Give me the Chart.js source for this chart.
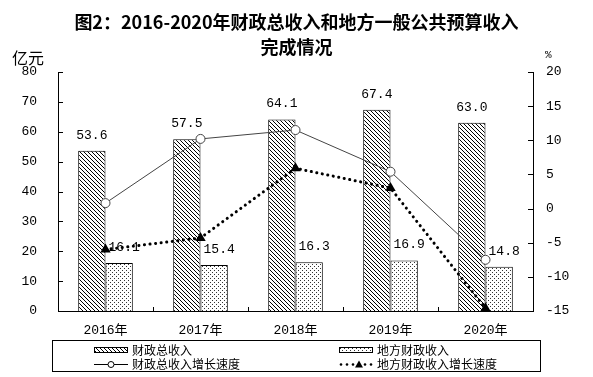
<!DOCTYPE html>
<html>
<head>
<meta charset="utf-8">
<script src="https://cdn.jsdelivr.net/npm/chart.js@4"></script>
<style>
  html, body { margin: 0; padding: 0; background: #fff; }
  #wrap { position: relative; width: 593px; height: 377px; }
  #title {
    position: absolute; left: 0; top: 9px; width: 593px; text-align: center;
    font: bold 18px "Noto Sans CJK SC", sans-serif; line-height: 25px; color: #000;
  }
  .unit { position: absolute; font-family: "Noto Sans CJK SC", sans-serif; color: #000; }
  #unitL { left: 12px; top: 45px; font-size: 16px; }
  #unitR { left: 545px; top: 49px; font-size: 11px; font-family: "Liberation Mono", monospace; }
  #probe { position: absolute; left: -999px; font-family: "Liberation Mono"; }
</style>
</head>
<body>
<div id="wrap">
  <canvas id="chart" width="593" height="377"></canvas>
  <div id="title">图2：2016-2020年财政总收入和地方一般公共预算收入<br>完成情况</div>
  <div class="unit" id="unitL">亿元</div>
  <div class="unit" id="unitR">%</div>
  <span id="probe">0123456789</span>
</div>
<script>
const years = ["2016年", "2017年", "2018年", "2019年", "2020年"];
const totalRevenue = [53.6, 57.5, 64.1, 67.4, 63.0];
const localRevenue = [16.1, 15.4, 16.3, 16.9, 14.8];
const totalGrowth = [0.8, 10.2, 11.5, 5.4, -7.5];
const localGrowth = [-6.0, -4.3, 5.9, 3.0, -14.6];
const seriesNames = ["财政总收入", "地方财政收入", "财政总收入增长速度", "地方财政收入增长速度"];

const numFont = "Liberation Mono, Noto Sans CJK SC, monospace";
const cjkFont = "Noto Sans CJK SC, sans-serif";

function hatchPattern() {
  const c = document.createElement("canvas");
  c.width = 4; c.height = 4;
  const g = c.getContext("2d");
  g.fillStyle = "#fff";
  g.fillRect(0, 0, 4, 4);
  g.strokeStyle = "#000";
  g.lineWidth = 1;
  g.beginPath();
  g.moveTo(-1, -1); g.lineTo(5, 5);
  g.moveTo(-1, 3); g.lineTo(1, 5);
  g.moveTo(3, -1); g.lineTo(5, 1);
  g.stroke();
  return g.createPattern(c, "repeat");
}

function dotPattern() {
  const c = document.createElement("canvas");
  c.width = 4; c.height = 4;
  const g = c.getContext("2d");
  g.fillStyle = "#fff";
  g.fillRect(0, 0, 4, 4);
  g.fillStyle = "#333";
  g.fillRect(0, 0, 1, 1);
  g.fillRect(2, 2, 1, 1);
  return g.createPattern(c, "repeat");
}

const hatch = hatchPattern();
const dots = dotPattern();

// value labels over the bars
const barLabels = {
  id: "barLabels",
  afterDatasetsDraw(chart) {
    const ctx = chart.ctx;
    ctx.save();
    ctx.font = "13px " + numFont;
    ctx.fillStyle = "#000";
    ctx.textAlign = "center";
    ctx.textBaseline = "bottom";
    [0, 1].forEach((di) => {
      const meta = chart.getDatasetMeta(di);
      const vals = chart.data.datasets[di].data;
      meta.data.forEach((bar, i) => {
        const dx = di === 0 ? 0 : 5;
        ctx.fillText(vals[i].toFixed(1), bar.x + dx, bar.y - 9);
      });
    });
    ctx.restore();
  },
};

// inward tick marks like the original
const innerTicks = {
  id: "innerTicks",
  afterDraw(chart) {
    const ctx = chart.ctx;
    const { y, y2, x } = chart.scales;
    const area = chart.chartArea;
    ctx.save();
    ctx.strokeStyle = "#000";
    ctx.lineWidth = 1;
    ctx.beginPath();
    y.ticks.forEach((t) => {
      const py = Math.round(y.getPixelForValue(t.value)) + 0.5;
      ctx.moveTo(area.left, py); ctx.lineTo(area.left + 5, py);
    });
    y2.ticks.forEach((t) => {
      const py = Math.round(y2.getPixelForValue(t.value)) + 0.5;
      ctx.moveTo(area.right, py); ctx.lineTo(area.right - 5, py);
    });
    for (let i = 1; i < years.length; i++) {
      const px = Math.round((x.getPixelForTick(i - 1) + x.getPixelForTick(i)) / 2) + 0.5;
      ctx.moveTo(px, area.bottom); ctx.lineTo(px, area.bottom - 4);
    }
    ctx.stroke();
    ctx.restore();
  },
};

// boxed two-column legend under the axis
const boxLegend = {
  id: "boxLegend",
  afterDraw(chart) {
    const ctx = chart.ctx;
    const ds = chart.data.datasets;
    ctx.save();
    ctx.strokeStyle = "#000";
    ctx.lineWidth = 1;
    ctx.strokeRect(52.5, 340.5, 488, 31);

    const cols = [94, 339];
    const rows = [350, 364];
    const sw = 34;
    ctx.font = "12px " + cjkFont;
    ctx.textBaseline = "middle";
    ctx.textAlign = "left";
    ds.forEach((d, i) => {
      const cx = cols[i % 2];
      const cy = rows[Math.floor(i / 2)];
      if (d.type === "bar") {
        ctx.fillStyle = d.backgroundColor;
        ctx.fillRect(cx, cy - 3, sw, 6);
        ctx.strokeRect(cx + 0.5, cy - 2.5, sw - 1, 5);
      } else if (i === 2) {
        ctx.strokeStyle = "#000";
        ctx.beginPath();
        ctx.moveTo(cx, cy + 0.5); ctx.lineTo(cx + sw, cy + 0.5);
        ctx.stroke();
        ctx.fillStyle = "#fff";
        ctx.beginPath();
        ctx.arc(cx + sw / 2, cy + 0.5, 3, 0, Math.PI * 2);
        ctx.fill(); ctx.stroke();
      } else {
        ctx.fillStyle = "#000";
        for (let k = 0; k < 6; k++) {
          if (k === 3) continue;
          ctx.beginPath();
          ctx.arc(cx + 2 + k * 6, cy + 0.5, 1.3, 0, Math.PI * 2);
          ctx.fill();
        }
        const tx = cx + 2 + 3 * 6;
        ctx.beginPath();
        ctx.moveTo(tx, cy - 3.5); ctx.lineTo(tx + 4, cy + 3.5); ctx.lineTo(tx - 4, cy + 3.5);
        ctx.closePath(); ctx.fill();
      }
      ctx.fillStyle = "#000";
      ctx.fillText(d.label, cx + sw + 4, cy + 0.5);
    });
    ctx.restore();
  },
};

new Chart(document.getElementById("chart"), {
  data: {
    labels: years,
    datasets: [
      {
        type: "bar",
        label: seriesNames[0],
        data: totalRevenue,
        backgroundColor: hatch,
        borderColor: "#000",
        borderWidth: 1,
        yAxisID: "y",
        order: 2,
      },
      {
        type: "bar",
        label: seriesNames[1],
        data: localRevenue,
        backgroundColor: dots,
        borderColor: "#000",
        borderWidth: 1,
        yAxisID: "y",
        order: 2,
      },
      {
        type: "line",
        label: seriesNames[2],
        data: totalGrowth,
        borderColor: "#444",
        borderWidth: 1,
        pointStyle: "circle",
        pointRadius: 4.5,
        pointBackgroundColor: "#fff",
        pointBorderColor: "#444",
        pointBorderWidth: 1,
        tension: 0,
        yAxisID: "y2",
        order: 1,
      },
      {
        type: "line",
        label: seriesNames[3],
        data: localGrowth,
        borderColor: "#000",
        borderWidth: 3,
        borderDash: [0.1, 5.5],
        borderCapStyle: "round",
        pointStyle: "triangle",
        pointRadius: 6,
        pointBackgroundColor: "#000",
        pointBorderColor: "#000",
        pointBorderWidth: 0,
        tension: 0,
        yAxisID: "y2",
        order: 0,
      },
    ],
  },
  options: {
    responsive: false,
    animation: false,
    events: [],
    layout: { padding: { top: 72, left: 0, right: 0, bottom: 0 } },
    datasets: { bar: { barPercentage: 1, categoryPercentage: 0.575 } },
    scales: {
      x: {
        grid: { display: false, drawTicks: false },
        border: { color: "#000", width: 1 },
        ticks: { color: "#000", font: { family: numFont, size: 13 }, padding: 12 },
        afterFit: (s) => { s.height = 66; },
      },
      y: {
        position: "left",
        min: 0,
        max: 80,
        grid: { display: false, drawTicks: false },
        border: { color: "#000", width: 1 },
        ticks: { stepSize: 10, color: "#000", font: { family: numFont, size: 13 }, padding: 21 },
        afterFit: (s) => { s.width = 58; },
      },
      y2: {
        position: "right",
        min: -15,
        max: 20,
        grid: { display: false, drawTicks: false },
        border: { color: "#000", width: 1 },
        ticks: { stepSize: 5, color: "#000", font: { family: numFont, size: 13 }, padding: 13 },
        afterFit: (s) => { s.width = 60; },
      },
    },
    plugins: {
      legend: { display: false },
      tooltip: { enabled: false },
    },
  },
  plugins: [barLabels, innerTicks, boxLegend],
});
</script>
</body>
</html>
